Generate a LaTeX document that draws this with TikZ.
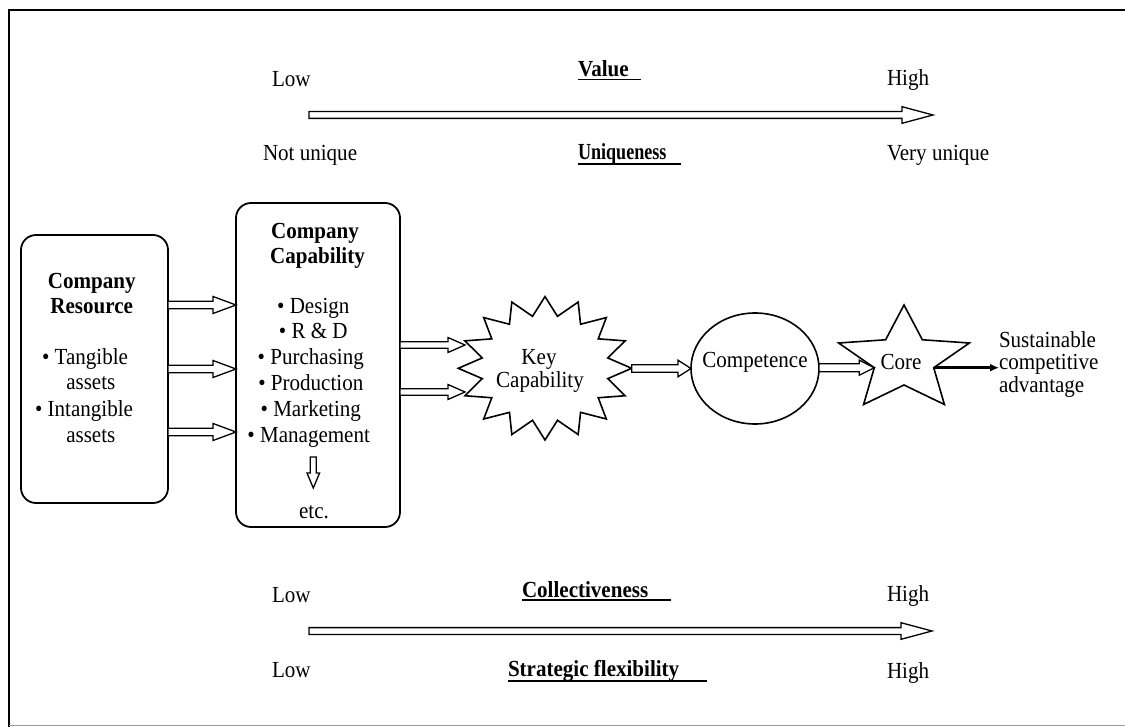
\documentclass[tikz,border=0pt]{standalone}
\usepackage{fontspec}
\setmainfont{Liberation Serif}[FakeStretch=0.915]
\usepackage{graphicx}
\usetikzlibrary{calc,arrows.meta,shapes.geometric}

% hollow block arrow pointing right: start, end, shaft half-width, head half-width, head length
\newcommand\hollowarrow[5]{%
  \draw[harrow] let \p1=(#1), \p2=(#2) in
    (\x1,\y2+#3pt) -- (\x2-#5pt,\y2+#3pt) -- (\x2-#5pt,\y2+#4pt) -- (\x2,\y2)
    -- (\x2-#5pt,\y2-#4pt) -- (\x2-#5pt,\y2-#3pt) -- (\x1,\y2-#3pt) -- cycle;}

\tikzset{
  every node/.style={inner sep=0pt, outer sep=0pt},
  lbl/.style={font=\fontsize{23}{25}\selectfont, anchor=base west},
  ttl/.style={font=\fontsize{23}{25}\selectfont\bfseries, anchor=base west},
  txt/.style={font=\fontsize{23}{25}\selectfont, anchor=base},
  head/.style={font=\fontsize{23}{25}\selectfont\bfseries, anchor=base},
  side/.style={font=\fontsize{23}{22}\selectfont, anchor=base west},
  box/.style={draw, line width=1.8pt, rounded corners=15pt},
  harrow/.style={draw, line width=1.3pt, fill=white, line join=miter},
  uline/.style={line width=1.8pt},
  outline/.style={line width=1.6pt, line join=miter},
}

\begin{document}
\begin{tikzpicture}[x=1pt, y=-1pt]
\useasboundingbox (0,0) rectangle (1125,727);

% frame
\draw[line width=2pt] (1126,10.5) -- (9,10.5) -- (9,728);
\draw[line width=1.5pt, black!40] (9,725.5) -- (1126,725.5);

% ---- top scale: value / uniqueness
\node[lbl] (lowA) at (272,87) {Low};
\node[ttl] (value) at (578,77) {Value};
\draw[uline] (value.base west) ++(0,2.5) -- ++(63,0);
\node[lbl] (highA) at (887,86) {High};
\coordinate (topS) at (309,115);
\coordinate (topE) at (933,115);
\hollowarrow{topS}{topE}{3.4}{8.3}{31}
\node[lbl] (notuniq) at (263,161) {Not unique};
\node[ttl] (uniq) at (578,160) {\scalebox{0.86}[1]{Uniqueness}};
\draw[uline] (uniq.base west) ++(0,4) -- ++(103,0);
\node[lbl] (veryuniq) at (887,161) {Very unique};

% ---- company resource
\node[box, minimum width=147, minimum height=268] (res) at (94.5,369) {};
\node[head] (r1) at (91.7,289) {Company};
\node[head] (r2) at (91.7,314) {Resource};
\node[txt] (r3) at (85,365) {\textbullet\ Tangible};
\node[txt] (r4) at (90.8,390) {assets};
\node[txt] (r5) at (84,416.7) {\textbullet\ Intangible};
\node[txt] (r6) at (90.8,442.3) {assets};

% ---- company capability
\node[box, minimum width=164, minimum height=324] (cap) at (318,365) {};
\node[head] (c1) at (315,238.3) {Company};
\node[head] (c2) at (317.5,263.3) {Capability};
\node[txt] (c3) at (313.3,314) {\textbullet\ Design};
\node[txt] (c4) at (313.3,339) {\textbullet\ R \& D};
\node[txt] (c5) at (310.8,365) {\textbullet\ Purchasing};
\node[txt] (c6) at (310.8,390.7) {\textbullet\ Production};
\node[txt] (c7) at (310.8,416.7) {\textbullet\ Marketing};
\node[txt] (c8) at (308.7,442.3) {\textbullet\ Management};
\node[txt] (etc) at (314,518) {etc.};
% small downward arrow above "etc."
\draw[harrow] (310.3,457) -- (316.3,457) -- (316.3,473) -- (319.6,473)
  -- (313.3,488) -- (307,473) -- (310.3,473) -- cycle;

% resource -> capability
\foreach \yy [count=\i] in {305,369,432}{
  \coordinate (rs\i) at (res.east |- 0,\yy);
  \coordinate (ce\i) at (cap.west |- 0,\yy);
  \hollowarrow{rs\i}{ce\i}{3.8}{8.5}{23}
}

% ---- key capability (starburst)
\draw[outline] plot[samples at={0,...,31}, variable=\k]
  ({545+ifthenelse(mod(\k,2)==0,86.7,64)*cos(\k*11.25)},
   {368.3-ifthenelse(mod(\k,2)==0,71.7,53)*sin(\k*11.25)}) -- cycle;
\node[txt] (key1) at (539,365) {Key};
\node[txt] (key2) at (540,388) {Capability};
\coordinate (kin1) at (465,345);
\coordinate (kin2) at (465,392);
\coordinate (kout) at (631.7,368.3);
\coordinate (cs1) at (cap.east |- 0,345);
\coordinate (cs2) at (cap.east |- 0,392);
\hollowarrow{cs1}{kin1}{3.3}{7.5}{17}
\hollowarrow{cs2}{kin2}{3.3}{7.5}{17}

% ---- competence
\node[draw, ellipse, line width=1.6pt, minimum width=128, minimum height=111] (comp) at (755,368.5) {};
\node[txt] (comptxt) at (755,367) {Competence};
\hollowarrow{kout}{comp.west}{3.8}{8.3}{13}

% ---- core (five-pointed star)
\draw[outline] plot[samples at={0,...,9}, variable=\k]
  ({904+1.25*ifthenelse(mod(\k,2)==0,55,25)*cos(90+36*\k)},
   {360-ifthenelse(mod(\k,2)==0,55,25)*sin(90+36*\k)}) -- cycle;
\node[txt] (core) at (901,370) {Core};
\coordinate (corein) at (874.3,367.7);
\coordinate (coreout) at (933.7,367.7);
\hollowarrow{comp.east}{corein}{4}{7.5}{15}

% ---- sustainable competitive advantage
\node[side] (s1) at (999,348) {Sustainable};
\node[side] (s2) at (999,370) {competitive};
\node[side] (s3) at (999,392) {advantage};
\draw[line width=2.6pt, -{Latex[length=9pt,width=8pt]}] (coreout) -- (coreout -| s2.west);

% ---- bottom scale: collectiveness / strategic flexibility
\node[lbl] (lowB) at (272,602) {Low};
\node[ttl] (coll) at (522,597) {Collectiveness};
\draw[uline] (coll.base west) ++(0,3) -- ++(149,0);
\node[lbl] (highB) at (887,601) {High};
\coordinate (botS) at (309,631);
\coordinate (botE) at (932,631);
\hollowarrow{botS}{botE}{3.4}{8.3}{31}
\node[lbl] (lowC) at (272,677) {Low};
\node[ttl] (strat) at (508,676) {Strategic flexibility};
\draw[uline] (strat.base west) ++(0,5) -- ++(199,0);
\node[lbl] (highC) at (887,678) {High};
\end{tikzpicture}
\end{document}
